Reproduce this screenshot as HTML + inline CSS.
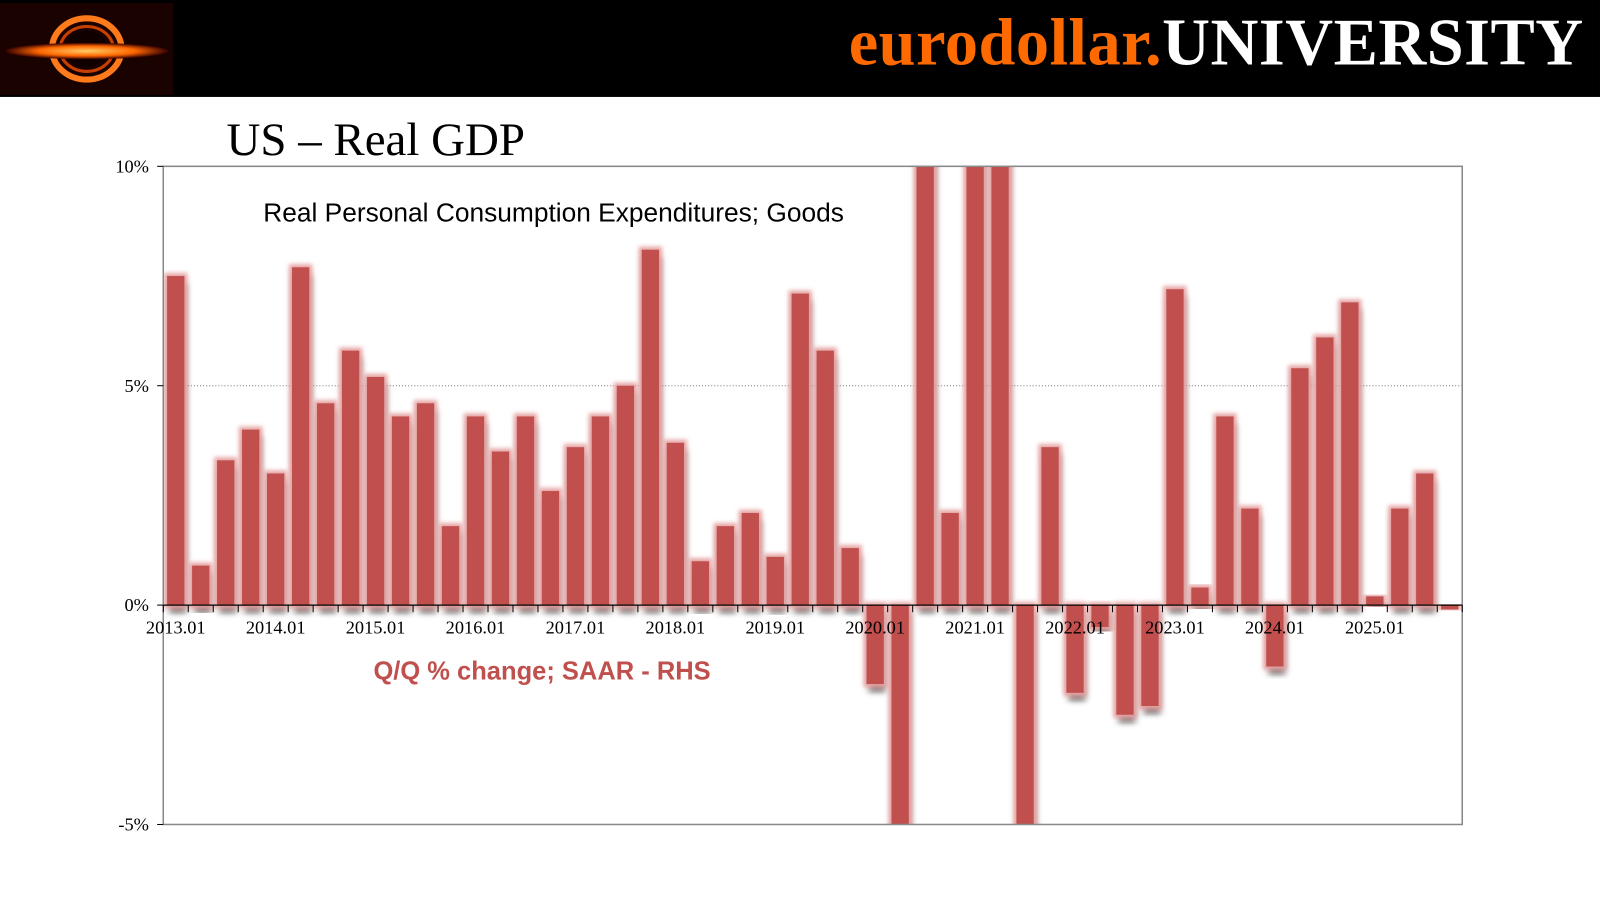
<!DOCTYPE html>
<html style="overflow:hidden"><head><meta charset="utf-8"><style>
html,body{margin:0;width:1600px;height:900px;background:#fff;overflow:hidden;font-family:"Liberation Serif",serif}
#wrap{position:absolute;left:0;top:0;width:1568px;height:882px;transform:scale(1.0204);transform-origin:0 0;overflow:hidden}
#hdr{position:absolute;left:0;top:0;width:1568px;height:95px;background:#000}
#brand{position:absolute;right:16px;top:5px;font-size:65px;font-weight:bold;letter-spacing:0.5px;white-space:nowrap}
</style></head><body>
<div id="wrap">
<div id="hdr">
<svg width="170" height="95" style="position:absolute;left:0;top:0">
<rect x="0" y="3" width="170" height="90" fill="#1a0200"/>
<defs><radialGradient id="g" cx="50%" cy="50%" r="50%"><stop offset="0" stop-color="#ffcc66"/><stop offset="0.6" stop-color="#ff6600"/><stop offset="1" stop-color="#300"/></radialGradient></defs>
<ellipse cx="85" cy="48" rx="34" ry="30" fill="none" stroke="#ff7a1a" stroke-width="6"/>
<ellipse cx="85" cy="48" rx="26" ry="22" fill="none" stroke="#c84000" stroke-width="3"/>
<ellipse cx="85" cy="48" rx="20" ry="18" fill="#100"/>
<ellipse cx="85" cy="50" rx="80" ry="8" fill="url(#g)"/>
</svg>
<div id="brand"><span style="color:#ff6a00">eurodollar.</span><span style="color:#fff">UNIVERSITY</span></div>
</div>
<svg id="chart" width="1568" height="882" style="position:absolute;left:0;top:0">
<defs>
<filter id="glow" x="-60%" y="-20%" width="220%" height="140%">
<feGaussianBlur in="SourceAlpha" stdDeviation="3" result="b"/>
<feOffset in="b" dx="2" dy="7" result="o"/>
<feFlood flood-color="#000" flood-opacity="0.8"/><feComposite in2="o" operator="in" result="sh"/>
<feMorphology in="SourceAlpha" operator="dilate" radius="3" result="d"/>
<feGaussianBlur in="d" stdDeviation="2" result="db"/>
<feFlood flood-color="#e6a3a3"/><feComposite in2="db" operator="in" result="pk"/>
<feMerge><feMergeNode in="sh"/><feMergeNode in="pk"/><feMergeNode in="SourceGraphic"/></feMerge>
</filter>
<clipPath id="clip"><rect x="160" y="163" width="1273" height="645"/></clipPath>
</defs>
<text x="222" y="152" font-size="46">US – Real GDP</text>
<g id="grid"></g>
<g id="bars" clip-path="url(#clip)"></g>
<rect x="160" y="163" width="1273" height="645" fill="none" stroke="#888" stroke-width="1.5"/>
<g id="axes"></g>
<text x="258" y="217" font-size="25.8" font-family="Liberation Sans,sans-serif">Real Personal Consumption Expenditures; Goods</text>
<text x="366" y="666" font-size="25" font-weight="bold" fill="#c0504d" font-family="Liberation Sans,sans-serif">Q/Q % change; SAAR - RHS</text>
</svg>
</div>
<script>
const years=["2013","2014","2015","2016","2017","2018","2019","2020","2021","2022","2023","2024","2025"];
const values=[7.5,0.9,3.3,4.0, 3.0,7.7,4.6,5.8, 5.2,4.3,4.6,1.8, 4.3,3.5,4.3,2.6, 3.6,4.3,5.0,8.1, 3.7,1.0,1.8,2.1, 1.1,7.1,5.8,1.3, -1.8,-10.0,40.0,2.1, 12.0,12.0,-8.8,3.6, -2.0,-0.5,-2.5,-2.3, 7.2,0.4,4.3,2.2, -1.4,5.4,6.1,6.9, 0.2,2.2,3.0,-0.1];
const yTicks=[10,5,0,-5];
const yTickLabels=["10%","5%","0%","-5%"];
const NS="http://www.w3.org/2000/svg";
const X0=160,X1=1433,Y0=163,Y1=808,ymin=-5,ymax=10;
const n=values.length,slot=(X1-X0)/n;
const y=v=>Y1-(v-ymin)/(ymax-ymin)*(Y1-Y0);
const xc=i=>X0+slot*(i+0.5);
function mk(t,a,p){const e=document.createElementNS(NS,t);for(const k in a)e.setAttribute(k,a[k]);p.appendChild(e);return e;}
const grid=document.getElementById('grid'),bars=document.getElementById('bars'),axes=document.getElementById('axes');
yTicks.forEach((v,i)=>{
 if(v!==ymin&&v!==ymax&&v!==0){const g=mk('line',{x1:X0,x2:X1,y1:y(v),y2:y(v),stroke:'#777','stroke-dasharray':'1,2','stroke-width':1},grid);
 
 }
 mk('line',{x1:X0-6,x2:X0,y1:y(v),y2:y(v),stroke:'#000'},axes);
 const t=mk('text',{x:X0-14,y:y(v)+6,'text-anchor':'end','font-size':18},axes);t.textContent=yTickLabels[i];
 
 
});
values.forEach((v,i)=>{
 const top=y(Math.max(v,0)),bot=y(Math.min(v,0));
 const r=mk('rect',{x:xc(i)-8.5,y:top,width:17,height:Math.max(bot-top,1),fill:'#c0504d',filter:'url(#glow)'},bars);
 
 
});
mk('line',{x1:X0,x2:X1,y1:y(0),y2:y(0),stroke:'#000','stroke-width':1.2},axes);
for(let i=0;i<=n;i++)mk('line',{x1:X0+slot*i,x2:X0+slot*i,y1:y(0),y2:y(0)+7,stroke:'#000'},axes);
years.forEach((yr,k)=>{
 const t=mk('text',{x:xc(k*4),y:y(0)+28,'text-anchor':'middle','font-size':18},axes);t.textContent=yr+".01";
 
 
});
</script>
</body></html>
